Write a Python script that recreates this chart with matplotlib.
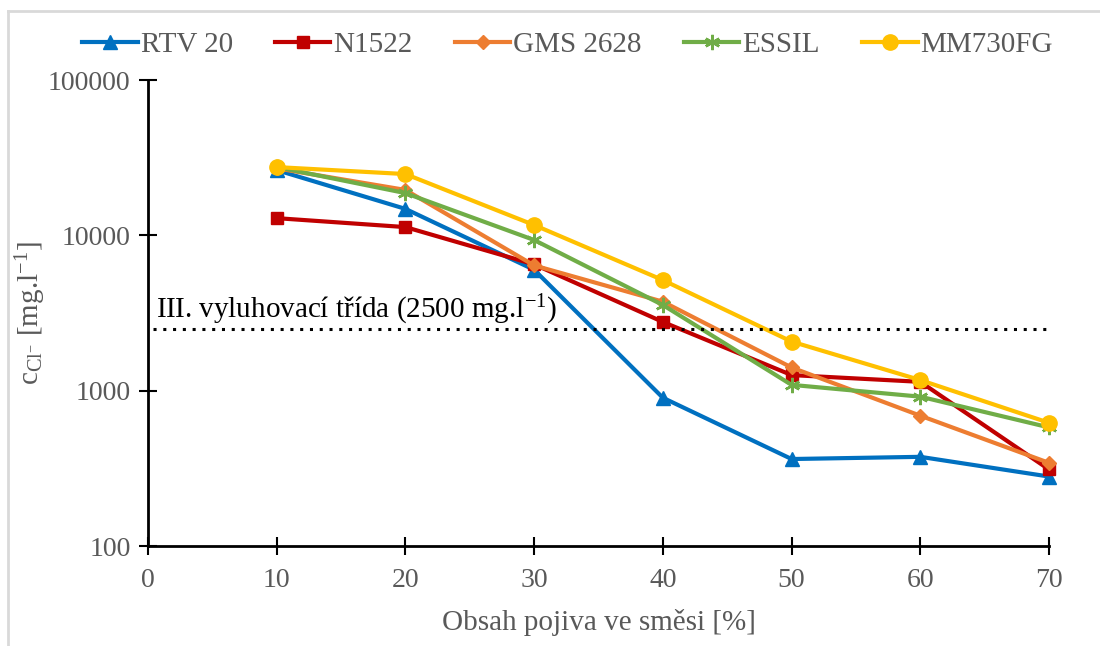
import matplotlib
matplotlib.use("Agg")
import matplotlib.pyplot as plt
from matplotlib.lines import Line2D

plt.rcParams['font.family'] = ['Liberation Serif', 'DejaVu Serif']
plt.rcParams['mathtext.fontset'] = 'custom'
plt.rcParams['mathtext.rm'] = 'Liberation Serif'
plt.rcParams['mathtext.it'] = 'Liberation Serif'

x = [10, 20, 30, 40, 50, 60, 70]
rtv20 = [26300, 14800, 6000, 900, 363, 375, 280]
n1522 = [12900, 11300, 6500, 2770, 1260, 1140, 311]
gms2628 = [27000, 19600, 6400, 3740, 1410, 690, 343]
essil = [27500, 18700, 9330, 3560, 1090, 915, 580]
mm730fg = [27500, 24800, 11650, 5150, 2070, 1170, 621]

series_names = ['RTV 20', 'N1522', 'GMS 2628', 'ESSIL', 'MM730FG']
limit_value = 2500
limit_label = 'III. vyluhovací třída (2500 mg.l$^{\\mathregular{-1}}$)'
x_ticks = [0, 10, 20, 30, 40, 50, 60, 70]
y_ticks = [100, 1000, 10000, 100000]

W, H = 1100, 646
fig = plt.figure(figsize=(W / 100, H / 100), dpi=100)
ax = fig.add_axes([148 / W, 1 - 546 / H, (1049 - 148) / W, (546 - 80) / H])

styles = [
    dict(color='#0070C0', marker='^', ms=10),
    dict(color='#C00000', marker='s', ms=9),
    dict(color='#ED7D31', marker='D', ms=7),
    dict(color='#70AD47', marker=(6, 2, 0), ms=11, mew=1.8),
    dict(color='#FFC000', marker='o', ms=11),
]
data = [rtv20, n1522, gms2628, essil, mm730fg]
for name, vals, st in zip(series_names, data, styles):
    kw = dict(st)
    ax.plot(x, vals, lw=3, label=name, clip_on=False, **kw)

ax.axhline(limit_value, color='black', ls=(0, (1, 2.2)), lw=2.2, xmin=0.006, xmax=1.0)
ax.text(0.6, 2950, limit_label, fontsize=21, color='black', ha='left', va='baseline')

ax.set_yscale('log')
ax.set_ylim(100, 100000)
ax.set_xlim(0, 70)
ax.set_xticks(x_ticks)
ax.set_xticklabels([str(t) for t in x_ticks])
ax.set_yticks(y_ticks)
ax.set_yticklabels([str(t) for t in y_ticks])
ax.minorticks_off()
ax.yaxis.set_minor_locator(matplotlib.ticker.NullLocator())

for s in ['top', 'right']:
    ax.spines[s].set_visible(False)
for s in ['left', 'bottom']:
    ax.spines[s].set_linewidth(2)
    ax.spines[s].set_color('black')
ax.tick_params(axis='both', which='major', direction='inout', length=13, width=1.5,
               labelsize=20, labelcolor='#595959', color='black')
ax.tick_params(axis='x', pad=9)
ax.tick_params(axis='y', pad=6)

ax.set_xlabel('Obsah pojiva ve směsi [%]', fontsize=21, color='#595959', labelpad=12)
ax.set_ylabel('c$_{\\mathregular{Cl}^{\\mathregular{-}}}$ [mg.l$^{\\mathregular{-1}}$]',
              fontsize=21, color='#595959', labelpad=0)

leg = fig.legend(loc='center', bbox_to_anchor=(0.516, 1 - 45 / H), ncol=5, frameon=False,
                 fontsize=21, handlelength=1.9, columnspacing=1.45, handletextpad=0.1,
                 labelcolor='#595959')

# chart border (left and top edges visible)
fig.add_artist(Line2D([8 / W, 8 / W], [0, 1 - 11 / H], transform=fig.transFigure,
                      color='#d9d9d9', lw=2))
fig.add_artist(Line2D([8 / W, 1], [1 - 11 / H, 1 - 11 / H], transform=fig.transFigure,
                      color='#d9d9d9', lw=2))

fig.savefig('out.png', dpi=100)
